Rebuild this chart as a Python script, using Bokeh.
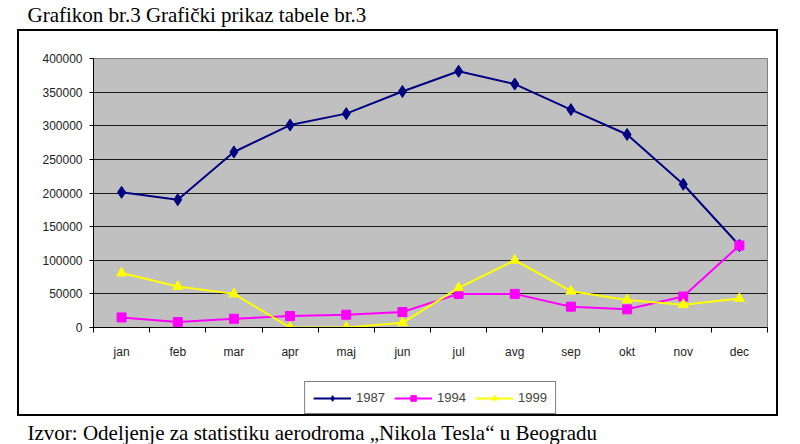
from bokeh.plotting import figure
from bokeh.layouts import column
from bokeh.models import (FixedTicker, Legend, LegendItem, Title, InlineStyleSheet,
                          Range1d, NumeralTickFormatter)
from bokeh.embed import file_html
from bokeh.resources import INLINE

months = ["jan", "feb", "mar", "apr", "maj", "jun", "jul", "avg", "sep", "okt", "nov", "dec"]
y1987 = [201000, 190000, 261000, 301000, 318000, 351000, 381000, 362000, 324000, 287000, 213000, 122000]
y1994 = [15000, 8000, 13000, 17000, 19000, 23000, 50000, 50000, 31000, 27000, 46000, 122000]
y1999 = [81000, 61000, 50000, 0, 0, 7000, 59000, 100000, 54000, 41000, 34000, 43000]
series_names = ["1987", "1994", "1999"]
y_ticks = [0, 50000, 100000, 150000, 200000, 250000, 300000, 350000, 400000]

title_text = "Grafikon br.3 Grafički prikaz tabele br.3"
source_text = "Izvor: Odeljenje za statistiku aerodroma \u201eNikola Tesla\u201c u Beogradu"

colors = ["#000080", "#ff00ff", "#ffff00"]
markers = ["diamond", "square", "triangle"]
msizes = [12, 9, 10]
series = [y1987, y1994, y1999]

xs = [i + 0.5 for i in range(len(months))]
W = 800
TOP_H, MAIN_H, BOT_H = 30, 332, 82
FL, FR = 93, 767
FRAME_TOP, FRAME_BOT = 58, 327   # in page pixels
TEXT_X = 27


def strip(height, y_range):
    f = figure(width=W, height=height, output_backend="svg", toolbar_location=None,
               x_range=Range1d(0, 1), y_range=y_range,
               x_axis_location=None, y_axis_location=None,
               min_border_left=0, min_border_right=0,
               min_border_top=0, min_border_bottom=0)
    f.grid.visible = False
    f.outline_line_color = None
    f.background_fill_color = "white"
    f.border_fill_color = "white"
    return f


# ---- title strip
t = strip(TOP_H, Range1d(0, 1))
t.add_layout(Title(text=title_text, align="left", offset=TEXT_X - FL, standoff=0,
                   text_font="Liberation Serif", text_font_size="21px",
                   text_font_style="normal", text_color="black"), "above")

# ---- main chart
p = figure(width=W, height=MAIN_H, frame_width=FR - FL, frame_height=FRAME_BOT - FRAME_TOP,
           output_backend="svg", toolbar_location=None,
           x_range=Range1d(0, len(months)), y_range=Range1d(0, 400000),
           min_border_left=FL, min_border_right=W - FR,
           min_border_top=FRAME_TOP - TOP_H,
           min_border_bottom=TOP_H + MAIN_H - FRAME_BOT)
p.background_fill_color = "#c0c0c0"
p.border_fill_color = "white"
p.outline_line_color = "#808080"
p.outline_line_width = 1

p.xaxis.ticker = FixedTicker(ticks=xs, minor_ticks=list(range(len(months) + 1)))
p.xaxis.major_label_overrides = {x: m for x, m in zip(xs, months)}
p.xaxis.major_tick_out = 0
p.xaxis.major_tick_in = 0
p.xaxis.minor_tick_out = 5
p.xaxis.minor_tick_in = 0
p.xaxis.major_label_standoff = 12
p.yaxis.ticker = FixedTicker(ticks=y_ticks)
p.yaxis.formatter = NumeralTickFormatter(format="0")
p.yaxis.major_tick_out = 4
p.yaxis.major_tick_in = 0
p.yaxis.minor_tick_out = 0
p.yaxis.minor_tick_in = 0
p.yaxis.major_label_standoff = 7
for ax in (p.xaxis, p.yaxis):
    ax.axis_line_color = "black"
    ax.major_tick_line_color = "black"
    ax.minor_tick_line_color = "black"
    ax.major_label_text_font = "Liberation Sans"
    ax.major_label_text_font_size = "12px"
    ax.major_label_text_color = "#222222"
p.xgrid.grid_line_color = None
p.ygrid.grid_line_color = "#1a1a1a"
p.ygrid.grid_line_width = 1

for ys, c, mk, ms in zip(series, colors, markers, msizes):
    p.line(xs, ys, line_color=c, line_width=2)
    p.scatter(xs, ys, marker=mk, size=ms, fill_color=c, line_color=c)

# ---- bottom strip: legend + source (series re-drawn off-view only to key the legend)
q = strip(BOT_H, Range1d(-2, -1))
items = []
for name, ys, c, mk in zip(series_names, series, colors, markers):
    lr = q.line(xs, ys, line_color=c, line_width=2)
    sr = q.scatter(xs, ys, marker=mk, size=9, fill_color=c, line_color=c)
    items.append(LegendItem(label=name, renderers=[lr, sr]))
legend = Legend(items=items, orientation="horizontal", location="top_center",
                label_text_font="Liberation Sans", label_text_font_size="13px",
                glyph_width=38, glyph_height=14, label_standoff=5, spacing=9,
                padding=8, margin=19,
                border_line_color="black", border_line_width=1,
                background_fill_color="white", background_fill_alpha=1)
q.add_layout(legend, "center")
q.add_layout(Title(text=source_text, align="left", offset=TEXT_X - FL, standoff=0,
                   text_font="Liberation Serif", text_font_size="21px",
                   text_font_style="normal", text_color="black"), "below")

page = column(t, p, q, spacing=0)
page.stylesheets = [InlineStyleSheet(css=(
    ":host { position: relative; }"
    ":host::after { content: ''; position: absolute; left: 17px; top: 29px;"
    " width: 761px; height: 387px; box-sizing: border-box;"
    " border: 2px solid black; pointer-events: none; }"))]

open("out.html", "w").write(file_html(page, INLINE))
